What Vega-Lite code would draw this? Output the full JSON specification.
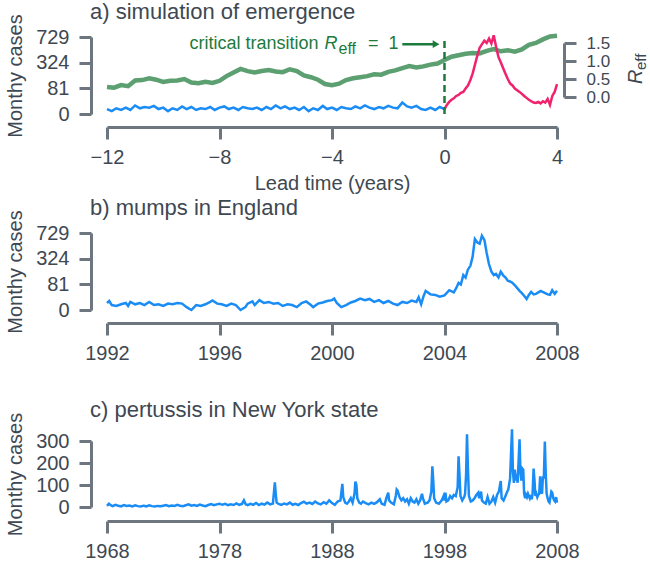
{
  "$schema": "https://vega.github.io/schema/vega-lite/v6.json",
  "background": "white",
  "padding": {"left": 5, "top": 0, "right": 2, "bottom": 0},
  "datasets": {
    "reff": [
      {"t": -12.0, "r": 0.28}, {"t": -11.75, "r": 0.26}, {"t": -11.5, "r": 0.33}, {"t": -11.25, "r": 0.30},
      {"t": -11.0, "r": 0.46}, {"t": -10.75, "r": 0.47}, {"t": -10.5, "r": 0.52}, {"t": -10.25, "r": 0.48},
      {"t": -10.0, "r": 0.42}, {"t": -9.75, "r": 0.45}, {"t": -9.5, "r": 0.46}, {"t": -9.25, "r": 0.50},
      {"t": -9.0, "r": 0.40}, {"t": -8.75, "r": 0.38}, {"t": -8.5, "r": 0.42}, {"t": -8.25, "r": 0.39},
      {"t": -8.0, "r": 0.45}, {"t": -7.75, "r": 0.58}, {"t": -7.5, "r": 0.68}, {"t": -7.25, "r": 0.78},
      {"t": -7.0, "r": 0.72}, {"t": -6.75, "r": 0.68}, {"t": -6.5, "r": 0.72}, {"t": -6.25, "r": 0.75},
      {"t": -6.0, "r": 0.71}, {"t": -5.75, "r": 0.69}, {"t": -5.5, "r": 0.77}, {"t": -5.25, "r": 0.72},
      {"t": -5.0, "r": 0.60}, {"t": -4.75, "r": 0.55}, {"t": -4.5, "r": 0.48}, {"t": -4.25, "r": 0.36},
      {"t": -4.0, "r": 0.33}, {"t": -3.75, "r": 0.37}, {"t": -3.5, "r": 0.47}, {"t": -3.25, "r": 0.52},
      {"t": -3.0, "r": 0.55}, {"t": -2.75, "r": 0.58}, {"t": -2.5, "r": 0.63}, {"t": -2.25, "r": 0.62},
      {"t": -2.0, "r": 0.70}, {"t": -1.75, "r": 0.74}, {"t": -1.5, "r": 0.80}, {"t": -1.25, "r": 0.86},
      {"t": -1.0, "r": 0.82}, {"t": -0.75, "r": 0.85}, {"t": -0.5, "r": 0.90}, {"t": -0.25, "r": 0.93},
      {"t": 0.0, "r": 1.03}, {"t": 0.25, "r": 1.12}, {"t": 0.5, "r": 1.16}, {"t": 0.75, "r": 1.20},
      {"t": 1.0, "r": 1.22}, {"t": 1.25, "r": 1.21}, {"t": 1.5, "r": 1.28}, {"t": 1.75, "r": 1.33},
      {"t": 2.0, "r": 1.27}, {"t": 2.25, "r": 1.30}, {"t": 2.5, "r": 1.26}, {"t": 2.75, "r": 1.32},
      {"t": 3.0, "r": 1.45}, {"t": 3.25, "r": 1.50}, {"t": 3.5, "r": 1.60}, {"t": 3.75, "r": 1.68},
      {"t": 4.0, "r": 1.70}
    ],
    "sim": [
      {"t": -12.0, "c": 3, "p": "before"}, {"t": -11.83, "c": 1, "p": "before"}, {"t": -11.67, "c": 4, "p": "before"},
      {"t": -11.5, "c": 2, "p": "before"}, {"t": -11.33, "c": 5, "p": "before"}, {"t": -11.17, "c": 2, "p": "before"},
      {"t": -11.0, "c": 9, "p": "before"}, {"t": -10.83, "c": 4, "p": "before"}, {"t": -10.67, "c": 6, "p": "before"},
      {"t": -10.5, "c": 5, "p": "before"}, {"t": -10.33, "c": 8, "p": "before"}, {"t": -10.17, "c": 3, "p": "before"},
      {"t": -10.0, "c": 5, "p": "before"}, {"t": -9.83, "c": 1, "p": "before"}, {"t": -9.67, "c": 4, "p": "before"},
      {"t": -9.5, "c": 2, "p": "before"}, {"t": -9.33, "c": 7, "p": "before"}, {"t": -9.17, "c": 3, "p": "before"},
      {"t": -9.0, "c": 6, "p": "before"}, {"t": -8.83, "c": 2, "p": "before"}, {"t": -8.67, "c": 4, "p": "before"},
      {"t": -8.5, "c": 3, "p": "before"}, {"t": -8.33, "c": 6, "p": "before"}, {"t": -8.17, "c": 2, "p": "before"},
      {"t": -8.0, "c": 5, "p": "before"}, {"t": -7.83, "c": 7, "p": "before"}, {"t": -7.67, "c": 3, "p": "before"},
      {"t": -7.5, "c": 5, "p": "before"}, {"t": -7.33, "c": 2, "p": "before"}, {"t": -7.17, "c": 6, "p": "before"},
      {"t": -7.0, "c": 4, "p": "before"}, {"t": -6.83, "c": 3, "p": "before"}, {"t": -6.67, "c": 5, "p": "before"},
      {"t": -6.5, "c": 2, "p": "before"}, {"t": -6.33, "c": 6, "p": "before"}, {"t": -6.17, "c": 3, "p": "before"},
      {"t": -6.0, "c": 9, "p": "before"}, {"t": -5.83, "c": 4, "p": "before"}, {"t": -5.67, "c": 7, "p": "before"},
      {"t": -5.5, "c": 3, "p": "before"}, {"t": -5.33, "c": 5, "p": "before"}, {"t": -5.17, "c": 2, "p": "before"},
      {"t": -5.0, "c": 6, "p": "before"}, {"t": -4.83, "c": 1, "p": "before"}, {"t": -4.67, "c": 4, "p": "before"},
      {"t": -4.5, "c": 2, "p": "before"}, {"t": -4.33, "c": 8, "p": "before"}, {"t": -4.17, "c": 3, "p": "before"},
      {"t": -4.0, "c": 5, "p": "before"}, {"t": -3.83, "c": 2, "p": "before"}, {"t": -3.67, "c": 6, "p": "before"},
      {"t": -3.5, "c": 4, "p": "before"}, {"t": -3.33, "c": 3, "p": "before"}, {"t": -3.17, "c": 7, "p": "before"},
      {"t": -3.0, "c": 4, "p": "before"}, {"t": -2.83, "c": 9, "p": "before"}, {"t": -2.67, "c": 5, "p": "before"},
      {"t": -2.5, "c": 3, "p": "before"}, {"t": -2.33, "c": 6, "p": "before"}, {"t": -2.17, "c": 4, "p": "before"},
      {"t": -2.0, "c": 8, "p": "before"}, {"t": -1.83, "c": 5, "p": "before"}, {"t": -1.67, "c": 4, "p": "before"},
      {"t": -1.5, "c": 16, "p": "before"}, {"t": -1.33, "c": 7, "p": "before"}, {"t": -1.17, "c": 5, "p": "before"},
      {"t": -1.0, "c": 8, "p": "before"}, {"t": -0.83, "c": 3, "p": "before"}, {"t": -0.67, "c": 2, "p": "before"},
      {"t": -0.5, "c": 5, "p": "before"}, {"t": -0.33, "c": 2, "p": "before"}, {"t": -0.17, "c": 6, "p": "before"},
      {"t": 0.0, "c": 3, "p": "before"},
      {"t": 0.0, "c": 3, "p": "after"}, {"t": 0.083, "c": 10, "p": "after"}, {"t": 0.167, "c": 18, "p": "after"},
      {"t": 0.25, "c": 25, "p": "after"}, {"t": 0.333, "c": 30, "p": "after"}, {"t": 0.417, "c": 40, "p": "after"},
      {"t": 0.5, "c": 45, "p": "after"}, {"t": 0.583, "c": 55, "p": "after"}, {"t": 0.667, "c": 60, "p": "after"},
      {"t": 0.75, "c": 80, "p": "after"}, {"t": 0.833, "c": 100, "p": "after"}, {"t": 0.917, "c": 140, "p": "after"},
      {"t": 1.0, "c": 200, "p": "after"}, {"t": 1.083, "c": 300, "p": "after"}, {"t": 1.167, "c": 420, "p": "after"},
      {"t": 1.25, "c": 540, "p": "after"}, {"t": 1.333, "c": 600, "p": "after"}, {"t": 1.417, "c": 660, "p": "after"},
      {"t": 1.5, "c": 620, "p": "after"}, {"t": 1.583, "c": 700, "p": "after"}, {"t": 1.667, "c": 610, "p": "after"},
      {"t": 1.75, "c": 760, "p": "after"}, {"t": 1.833, "c": 560, "p": "after"}, {"t": 1.917, "c": 400, "p": "after"},
      {"t": 2.0, "c": 330, "p": "after"}, {"t": 2.083, "c": 260, "p": "after"}, {"t": 2.167, "c": 200, "p": "after"},
      {"t": 2.25, "c": 150, "p": "after"}, {"t": 2.333, "c": 115, "p": "after"}, {"t": 2.417, "c": 100, "p": "after"},
      {"t": 2.5, "c": 80, "p": "after"}, {"t": 2.583, "c": 70, "p": "after"}, {"t": 2.667, "c": 60, "p": "after"},
      {"t": 2.75, "c": 50, "p": "after"}, {"t": 2.833, "c": 40, "p": "after"}, {"t": 2.917, "c": 32, "p": "after"},
      {"t": 3.0, "c": 25, "p": "after"}, {"t": 3.083, "c": 20, "p": "after"}, {"t": 3.167, "c": 16, "p": "after"},
      {"t": 3.25, "c": 15, "p": "after"}, {"t": 3.333, "c": 18, "p": "after"}, {"t": 3.417, "c": 14, "p": "after"},
      {"t": 3.5, "c": 20, "p": "after"}, {"t": 3.583, "c": 16, "p": "after"}, {"t": 3.667, "c": 28, "p": "after"},
      {"t": 3.75, "c": 10, "p": "after"}, {"t": 3.833, "c": 40, "p": "after"}, {"t": 3.917, "c": 60, "p": "after"},
      {"t": 4.0, "c": 110, "p": "after"}
    ],
    "mumps": [
      {"yr": 1992.0, "c": 6}, {"yr": 1992.08, "c": 10}, {"yr": 1992.17, "c": 3}, {"yr": 1992.33, "c": 2}, {"yr": 1992.5, "c": 4},
      {"yr": 1992.67, "c": 6}, {"yr": 1992.75, "c": 2}, {"yr": 1992.83, "c": 8}, {"yr": 1993.0, "c": 4}, {"yr": 1993.17, "c": 6},
      {"yr": 1993.33, "c": 3}, {"yr": 1993.5, "c": 8}, {"yr": 1993.67, "c": 3}, {"yr": 1993.83, "c": 4}, {"yr": 1994.0, "c": 2},
      {"yr": 1994.17, "c": 5}, {"yr": 1994.33, "c": 4}, {"yr": 1994.5, "c": 6}, {"yr": 1994.67, "c": 5}, {"yr": 1994.83, "c": 1},
      {"yr": 1995.0, "c": 0}, {"yr": 1995.17, "c": 3}, {"yr": 1995.33, "c": 2}, {"yr": 1995.5, "c": 4}, {"yr": 1995.67, "c": 8},
      {"yr": 1995.75, "c": 11}, {"yr": 1995.92, "c": 5}, {"yr": 1996.08, "c": 4}, {"yr": 1996.25, "c": 2}, {"yr": 1996.42, "c": 5},
      {"yr": 1996.58, "c": 3}, {"yr": 1996.75, "c": 0}, {"yr": 1996.92, "c": 1}, {"yr": 1997.0, "c": 5}, {"yr": 1997.17, "c": 9},
      {"yr": 1997.25, "c": 3}, {"yr": 1997.42, "c": 12}, {"yr": 1997.58, "c": 6}, {"yr": 1997.75, "c": 8}, {"yr": 1997.92, "c": 5},
      {"yr": 1998.08, "c": 6}, {"yr": 1998.25, "c": 2}, {"yr": 1998.42, "c": 4}, {"yr": 1998.58, "c": 3}, {"yr": 1998.75, "c": 1},
      {"yr": 1998.92, "c": 6}, {"yr": 1999.08, "c": 9}, {"yr": 1999.25, "c": 3}, {"yr": 1999.33, "c": 1}, {"yr": 1999.5, "c": 5},
      {"yr": 1999.67, "c": 7}, {"yr": 1999.83, "c": 10}, {"yr": 2000.0, "c": 12}, {"yr": 2000.08, "c": 16}, {"yr": 2000.17, "c": 6},
      {"yr": 2000.33, "c": 1}, {"yr": 2000.5, "c": 3}, {"yr": 2000.67, "c": 7}, {"yr": 2000.83, "c": 10}, {"yr": 2001.0, "c": 16},
      {"yr": 2001.17, "c": 12}, {"yr": 2001.33, "c": 15}, {"yr": 2001.5, "c": 8}, {"yr": 2001.67, "c": 12}, {"yr": 2001.83, "c": 6},
      {"yr": 2002.0, "c": 10}, {"yr": 2002.17, "c": 5}, {"yr": 2002.33, "c": 3}, {"yr": 2002.5, "c": 8}, {"yr": 2002.67, "c": 6},
      {"yr": 2002.83, "c": 11}, {"yr": 2003.0, "c": 8}, {"yr": 2003.08, "c": 20}, {"yr": 2003.17, "c": 4}, {"yr": 2003.25, "c": 22},
      {"yr": 2003.33, "c": 45}, {"yr": 2003.5, "c": 30}, {"yr": 2003.67, "c": 28}, {"yr": 2003.83, "c": 22}, {"yr": 2004.0, "c": 26},
      {"yr": 2004.17, "c": 48}, {"yr": 2004.33, "c": 38}, {"yr": 2004.42, "c": 60}, {"yr": 2004.5, "c": 90}, {"yr": 2004.58, "c": 80},
      {"yr": 2004.67, "c": 150}, {"yr": 2004.75, "c": 130}, {"yr": 2004.83, "c": 200}, {"yr": 2004.92, "c": 240}, {"yr": 2005.0, "c": 350},
      {"yr": 2005.08, "c": 620}, {"yr": 2005.17, "c": 560}, {"yr": 2005.25, "c": 540}, {"yr": 2005.33, "c": 680}, {"yr": 2005.42, "c": 600},
      {"yr": 2005.5, "c": 400}, {"yr": 2005.58, "c": 260}, {"yr": 2005.67, "c": 180}, {"yr": 2005.75, "c": 150}, {"yr": 2005.83, "c": 160},
      {"yr": 2005.92, "c": 130}, {"yr": 2006.0, "c": 180}, {"yr": 2006.08, "c": 150}, {"yr": 2006.17, "c": 130}, {"yr": 2006.25, "c": 105},
      {"yr": 2006.33, "c": 100}, {"yr": 2006.42, "c": 90}, {"yr": 2006.5, "c": 75}, {"yr": 2006.58, "c": 60}, {"yr": 2006.67, "c": 45},
      {"yr": 2006.75, "c": 35}, {"yr": 2006.83, "c": 25}, {"yr": 2006.92, "c": 15}, {"yr": 2007.0, "c": 28}, {"yr": 2007.08, "c": 40},
      {"yr": 2007.17, "c": 30}, {"yr": 2007.25, "c": 32}, {"yr": 2007.42, "c": 45}, {"yr": 2007.58, "c": 35}, {"yr": 2007.67, "c": 30},
      {"yr": 2007.75, "c": 28}, {"yr": 2007.83, "c": 48}, {"yr": 2007.92, "c": 32}, {"yr": 2008.0, "c": 45}
    ],
    "pertussis": [
      {"yr": 1968.0, "c": 5}, {"yr": 1968.17, "c": 15}, {"yr": 1968.33, "c": 8}, {"yr": 1968.5, "c": 4}, {"yr": 1968.75, "c": 10},
      {"yr": 1969.0, "c": 6}, {"yr": 1969.25, "c": 3}, {"yr": 1969.5, "c": 9}, {"yr": 1969.75, "c": 5}, {"yr": 1970.0, "c": 7},
      {"yr": 1970.25, "c": 3}, {"yr": 1970.5, "c": 8}, {"yr": 1970.75, "c": 4}, {"yr": 1971.0, "c": 2}, {"yr": 1971.25, "c": 6},
      {"yr": 1971.5, "c": 3}, {"yr": 1971.75, "c": 8}, {"yr": 1972.0, "c": 4}, {"yr": 1972.25, "c": 2}, {"yr": 1972.5, "c": 5},
      {"yr": 1972.75, "c": 3}, {"yr": 1973.0, "c": 6}, {"yr": 1973.25, "c": 9}, {"yr": 1973.5, "c": 4}, {"yr": 1973.75, "c": 7},
      {"yr": 1974.0, "c": 5}, {"yr": 1974.25, "c": 10}, {"yr": 1974.5, "c": 6}, {"yr": 1974.75, "c": 4}, {"yr": 1975.0, "c": 8},
      {"yr": 1975.25, "c": 12}, {"yr": 1975.5, "c": 6}, {"yr": 1975.75, "c": 9}, {"yr": 1976.0, "c": 5}, {"yr": 1976.25, "c": 11},
      {"yr": 1976.5, "c": 7}, {"yr": 1976.75, "c": 4}, {"yr": 1977.0, "c": 9}, {"yr": 1977.25, "c": 13}, {"yr": 1977.5, "c": 8},
      {"yr": 1977.75, "c": 12}, {"yr": 1978.0, "c": 15}, {"yr": 1978.25, "c": 10}, {"yr": 1978.5, "c": 14}, {"yr": 1978.75, "c": 8},
      {"yr": 1979.0, "c": 12}, {"yr": 1979.25, "c": 9}, {"yr": 1979.5, "c": 16}, {"yr": 1979.75, "c": 10}, {"yr": 1980.0, "c": 14},
      {"yr": 1980.17, "c": 30}, {"yr": 1980.33, "c": 12}, {"yr": 1980.5, "c": 8}, {"yr": 1980.75, "c": 14}, {"yr": 1981.0, "c": 10},
      {"yr": 1981.25, "c": 18}, {"yr": 1981.5, "c": 9}, {"yr": 1981.75, "c": 15}, {"yr": 1982.0, "c": 11}, {"yr": 1982.25, "c": 20},
      {"yr": 1982.5, "c": 12}, {"yr": 1982.75, "c": 16}, {"yr": 1982.92, "c": 112}, {"yr": 1983.0, "c": 60}, {"yr": 1983.08, "c": 20},
      {"yr": 1983.25, "c": 14}, {"yr": 1983.5, "c": 10}, {"yr": 1983.75, "c": 16}, {"yr": 1984.0, "c": 12}, {"yr": 1984.25, "c": 20},
      {"yr": 1984.5, "c": 10}, {"yr": 1984.75, "c": 14}, {"yr": 1985.0, "c": 9}, {"yr": 1985.25, "c": 18}, {"yr": 1985.5, "c": 24},
      {"yr": 1985.75, "c": 15}, {"yr": 1986.0, "c": 20}, {"yr": 1986.25, "c": 14}, {"yr": 1986.5, "c": 25}, {"yr": 1986.75, "c": 16},
      {"yr": 1987.0, "c": 12}, {"yr": 1987.25, "c": 22}, {"yr": 1987.5, "c": 15}, {"yr": 1987.75, "c": 30}, {"yr": 1988.0, "c": 18},
      {"yr": 1988.25, "c": 10}, {"yr": 1988.5, "c": 25}, {"yr": 1988.75, "c": 30}, {"yr": 1988.92, "c": 105}, {"yr": 1989.0, "c": 45},
      {"yr": 1989.17, "c": 20}, {"yr": 1989.33, "c": 15}, {"yr": 1989.5, "c": 25}, {"yr": 1989.67, "c": 40}, {"yr": 1989.83, "c": 20},
      {"yr": 1990.0, "c": 60}, {"yr": 1990.08, "c": 115}, {"yr": 1990.17, "c": 100}, {"yr": 1990.25, "c": 40}, {"yr": 1990.42, "c": 20},
      {"yr": 1990.58, "c": 15}, {"yr": 1990.75, "c": 25}, {"yr": 1991.0, "c": 18}, {"yr": 1991.25, "c": 12}, {"yr": 1991.5, "c": 20},
      {"yr": 1991.75, "c": 14}, {"yr": 1992.0, "c": 22}, {"yr": 1992.25, "c": 35}, {"yr": 1992.42, "c": 15}, {"yr": 1992.67, "c": 10},
      {"yr": 1992.83, "c": 40}, {"yr": 1993.0, "c": 65}, {"yr": 1993.08, "c": 30}, {"yr": 1993.25, "c": 20}, {"yr": 1993.5, "c": 12},
      {"yr": 1993.67, "c": 50}, {"yr": 1993.75, "c": 80}, {"yr": 1993.83, "c": 75}, {"yr": 1994.0, "c": 45}, {"yr": 1994.17, "c": 30},
      {"yr": 1994.33, "c": 40}, {"yr": 1994.5, "c": 25}, {"yr": 1994.67, "c": 35}, {"yr": 1994.83, "c": 15}, {"yr": 1995.0, "c": 40},
      {"yr": 1995.17, "c": 25}, {"yr": 1995.33, "c": 20}, {"yr": 1995.5, "c": 35}, {"yr": 1995.67, "c": 15}, {"yr": 1995.83, "c": 30},
      {"yr": 1996.0, "c": 60}, {"yr": 1996.08, "c": 40}, {"yr": 1996.25, "c": 15}, {"yr": 1996.5, "c": 20}, {"yr": 1996.67, "c": 30},
      {"yr": 1996.83, "c": 70}, {"yr": 1996.92, "c": 185}, {"yr": 1997.0, "c": 120}, {"yr": 1997.08, "c": 40}, {"yr": 1997.25, "c": 20},
      {"yr": 1997.5, "c": 15}, {"yr": 1997.75, "c": 30}, {"yr": 1997.92, "c": 50}, {"yr": 1998.0, "c": 30}, {"yr": 1998.08, "c": 65},
      {"yr": 1998.17, "c": 25}, {"yr": 1998.33, "c": 30}, {"yr": 1998.5, "c": 50}, {"yr": 1998.67, "c": 40}, {"yr": 1998.83, "c": 55},
      {"yr": 1999.0, "c": 50}, {"yr": 1999.17, "c": 90}, {"yr": 1999.25, "c": 230}, {"yr": 1999.33, "c": 150}, {"yr": 1999.42, "c": 50},
      {"yr": 1999.58, "c": 30}, {"yr": 1999.75, "c": 45}, {"yr": 1999.83, "c": 60}, {"yr": 1999.92, "c": 150}, {"yr": 2000.0, "c": 330},
      {"yr": 2000.08, "c": 180}, {"yr": 2000.17, "c": 50}, {"yr": 2000.33, "c": 25}, {"yr": 2000.5, "c": 30}, {"yr": 2000.67, "c": 40},
      {"yr": 2000.83, "c": 55}, {"yr": 2001.0, "c": 65}, {"yr": 2001.08, "c": 40}, {"yr": 2001.25, "c": 70}, {"yr": 2001.33, "c": 30},
      {"yr": 2001.5, "c": 20}, {"yr": 2001.67, "c": 15}, {"yr": 2001.83, "c": 45}, {"yr": 2001.92, "c": 30}, {"yr": 2002.0, "c": 15},
      {"yr": 2002.17, "c": 25}, {"yr": 2002.33, "c": 45}, {"yr": 2002.5, "c": 20}, {"yr": 2002.67, "c": 55}, {"yr": 2002.83, "c": 70},
      {"yr": 2003.0, "c": 118}, {"yr": 2003.08, "c": 40}, {"yr": 2003.25, "c": 30}, {"yr": 2003.42, "c": 50}, {"yr": 2003.58, "c": 70},
      {"yr": 2003.67, "c": 80}, {"yr": 2003.83, "c": 130}, {"yr": 2003.92, "c": 250}, {"yr": 2004.0, "c": 353}, {"yr": 2004.08, "c": 160},
      {"yr": 2004.17, "c": 110}, {"yr": 2004.25, "c": 170}, {"yr": 2004.33, "c": 120}, {"yr": 2004.42, "c": 150}, {"yr": 2004.5, "c": 110},
      {"yr": 2004.58, "c": 200}, {"yr": 2004.67, "c": 308}, {"yr": 2004.75, "c": 160}, {"yr": 2004.83, "c": 120}, {"yr": 2004.92, "c": 175},
      {"yr": 2005.0, "c": 170}, {"yr": 2005.08, "c": 60}, {"yr": 2005.17, "c": 40}, {"yr": 2005.25, "c": 55}, {"yr": 2005.33, "c": 45},
      {"yr": 2005.42, "c": 60}, {"yr": 2005.5, "c": 50}, {"yr": 2005.58, "c": 40}, {"yr": 2005.67, "c": 55}, {"yr": 2005.75, "c": 35},
      {"yr": 2005.83, "c": 60}, {"yr": 2005.92, "c": 175}, {"yr": 2006.0, "c": 120}, {"yr": 2006.08, "c": 50}, {"yr": 2006.17, "c": 60},
      {"yr": 2006.25, "c": 45}, {"yr": 2006.33, "c": 55}, {"yr": 2006.42, "c": 60}, {"yr": 2006.5, "c": 140}, {"yr": 2006.58, "c": 70},
      {"yr": 2006.67, "c": 60}, {"yr": 2006.75, "c": 140}, {"yr": 2006.83, "c": 130}, {"yr": 2006.92, "c": 298}, {"yr": 2007.0, "c": 150},
      {"yr": 2007.08, "c": 60}, {"yr": 2007.17, "c": 40}, {"yr": 2007.25, "c": 25}, {"yr": 2007.33, "c": 20}, {"yr": 2007.42, "c": 45},
      {"yr": 2007.5, "c": 70}, {"yr": 2007.58, "c": 65}, {"yr": 2007.67, "c": 40}, {"yr": 2007.75, "c": 30}, {"yr": 2007.83, "c": 25},
      {"yr": 2007.92, "c": 45}, {"yr": 2008.0, "c": 20}
    ],
    "one": [{"k": 1}]
  },
  "spacing": 119,
  "bounds": "flush",
  "vconcat": [
    {
      "width": 450,
      "height": 77,
      "title": {"text": "a) simulation of emergence"},
      "layer": [
        {
          "layer": [
            {
              "data": {"name": "reff"},
              "mark": {"type": "line", "color": "#5c9f70", "strokeWidth": 4.5},
              "encoding": {
                "x": {"field": "t", "type": "quantitative", "scale": {"domain": [-12, 4], "nice": false, "zero": false},
                      "axis": {"values": [-12, -8, -4, 0, 4], "title": "Lead time (years)", "offset": 13}},
                "y": {"field": "r", "type": "quantitative",
                      "scale": {"domain": [0, 1.5], "range": [60, 6], "nice": false, "zero": false},
                      "axis": {"orient": "right", "values": [0, 0.5, 1, 1.5], "format": ".1f", "title": null, "offset": 7, "labelPadding": 10, "labelFontSize": 17}}
              }
            },
            {
              "data": {"name": "one"},
              "mark": {"type": "text", "text": "R", "fontStyle": "italic", "fontSize": 20, "angle": 270, "align": "left", "baseline": "middle", "color": "#3e4852"},
              "encoding": {
                "x": {"datum": 6.82, "type": "quantitative"},
                "y": {"datum": 0.36, "type": "quantitative",
                      "scale": {"domain": [0, 1.5], "range": [60, 6], "nice": false, "zero": false},
                      "axis": {"orient": "right", "values": [0, 0.5, 1, 1.5], "format": ".1f", "title": null, "offset": 7, "labelPadding": 10, "labelFontSize": 17}}
              }
            },
            {
              "data": {"name": "one"},
              "mark": {"type": "text", "text": "eff", "fontSize": 15, "angle": 270, "align": "left", "baseline": "middle", "color": "#3e4852"},
              "encoding": {
                "x": {"datum": 6.98, "type": "quantitative"},
                "y": {"datum": 0.75, "type": "quantitative",
                      "scale": {"domain": [0, 1.5], "range": [60, 6], "nice": false, "zero": false},
                      "axis": {"orient": "right", "values": [0, 0.5, 1, 1.5], "format": ".1f", "title": null, "offset": 7, "labelPadding": 10, "labelFontSize": 17}}
              }
            }
          ]
        },
        {
          "layer": [
            {
              "data": {"name": "sim"},
              "mark": {"type": "line", "strokeWidth": 2.5},
              "encoding": {
                "x": {"field": "t", "type": "quantitative"},
                "y": {"field": "c", "type": "quantitative",
                      "scale": {"type": "sqrt", "domain": [0, 729], "nice": false, "zero": false},
                      "axis": {"values": [0, 81, 324, 729], "title": "Monthy cases", "offset": 16}},
                "color": {"field": "p", "type": "nominal", "scale": {"domain": ["before", "after"], "range": ["#1a8cf5", "#f0226e"]}, "legend": null}
              }
            },
            {
              "data": {"name": "one"},
              "mark": {"type": "rule", "color": "#1c7a3c", "strokeWidth": 2.5, "strokeDash": [7, 4]},
              "encoding": {
                "x": {"datum": 0, "type": "quantitative"},
                "y": {"datum": 0, "type": "quantitative", "scale": {"type": "sqrt", "domain": [0, 729], "nice": false, "zero": false},
                      "axis": {"values": [0, 81, 324, 729], "title": "Monthy cases", "offset": 16}},
                "y2": {"datum": 729}
              }
            },
            {
              "data": {"name": "one"},
              "mark": {"type": "rule", "color": "#1c7a3c", "strokeWidth": 2.5},
              "encoding": {
                "x": {"datum": -1.5, "type": "quantitative"},
                "x2": {"datum": -0.35},
                "y": {"datum": 600, "type": "quantitative", "scale": {"type": "sqrt", "domain": [0, 729], "nice": false, "zero": false},
                      "axis": {"values": [0, 81, 324, 729], "title": "Monthy cases", "offset": 16}}
              }
            },
            {
              "data": {"name": "one"},
              "mark": {"type": "point", "shape": "triangle-right", "filled": true, "opacity": 1, "size": 60, "color": "#1c7a3c"},
              "encoding": {
                "x": {"datum": -0.3, "type": "quantitative"},
                "y": {"datum": 600, "type": "quantitative", "scale": {"type": "sqrt", "domain": [0, 729], "nice": false, "zero": false},
                      "axis": {"values": [0, 81, 324, 729], "title": "Monthy cases", "offset": 16}}
              }
            },
            {
              "data": {"name": "one"},
              "mark": {"type": "text", "text": "critical transition", "fontSize": 18, "align": "right", "baseline": "middle", "dx": -126, "color": "#1c7a3c"},
              "encoding": {
                "x": {"datum": 0, "type": "quantitative"},
                "y": {"datum": 600, "type": "quantitative", "scale": {"type": "sqrt", "domain": [0, 729], "nice": false, "zero": false},
                      "axis": {"values": [0, 81, 324, 729], "title": "Monthy cases", "offset": 16}}
              }
            },
            {
              "data": {"name": "one"},
              "mark": {"type": "text", "text": "R", "fontSize": 18, "fontStyle": "italic", "align": "right", "baseline": "middle", "dx": -107, "color": "#1c7a3c"},
              "encoding": {
                "x": {"datum": 0, "type": "quantitative"},
                "y": {"datum": 600, "type": "quantitative", "scale": {"type": "sqrt", "domain": [0, 729], "nice": false, "zero": false},
                      "axis": {"values": [0, 81, 324, 729], "title": "Monthy cases", "offset": 16}}
              }
            },
            {
              "data": {"name": "one"},
              "mark": {"type": "text", "text": "eff", "fontSize": 16, "align": "left", "baseline": "middle", "dx": -106, "dy": 5, "color": "#1c7a3c"},
              "encoding": {
                "x": {"datum": 0, "type": "quantitative"},
                "y": {"datum": 600, "type": "quantitative", "scale": {"type": "sqrt", "domain": [0, 729], "nice": false, "zero": false},
                      "axis": {"values": [0, 81, 324, 729], "title": "Monthy cases", "offset": 16}}
              }
            },
            {
              "data": {"name": "one"},
              "mark": {"type": "text", "text": "= \u00a01", "fontSize": 18, "align": "right", "baseline": "middle", "dx": -46, "color": "#1c7a3c"},
              "encoding": {
                "x": {"datum": 0, "type": "quantitative"},
                "y": {"datum": 600, "type": "quantitative", "scale": {"type": "sqrt", "domain": [0, 729], "nice": false, "zero": false},
                      "axis": {"values": [0, 81, 324, 729], "title": "Monthy cases", "offset": 16}}
              }
            }
          ]
        }
      ],
      "resolve": {"scale": {"y": "independent"}}
    },
    {
      "width": 450,
      "height": 77,
      "title": {"text": "b) mumps in England"},
      "data": {"name": "mumps"},
      "mark": {"type": "line", "color": "#1a8cf5", "strokeWidth": 2.5},
      "encoding": {
        "x": {"field": "yr", "type": "quantitative", "scale": {"domain": [1992, 2008], "nice": false, "zero": false},
              "axis": {"values": [1992, 1996, 2000, 2004, 2008], "format": "d", "title": null, "offset": 13}},
        "y": {"field": "c", "type": "quantitative", "scale": {"type": "sqrt", "domain": [0, 729], "nice": false, "zero": false},
              "axis": {"values": [0, 81, 324, 729], "title": "Monthy cases", "offset": 16}}
      }
    },
    {
      "width": 450,
      "height": 78,
      "title": {"text": "c) pertussis in New York state"},
      "data": {"name": "pertussis"},
      "mark": {"type": "line", "color": "#1a8cf5", "strokeWidth": 2.5},
      "encoding": {
        "x": {"field": "yr", "type": "quantitative", "scale": {"domain": [1968, 2008], "nice": false, "zero": false},
              "axis": {"values": [1968, 1978, 1988, 1998, 2008], "format": "d", "title": null, "offset": 14}},
        "y": {"field": "c", "type": "quantitative", "scale": {"domain": [0, 300], "range": [78, 12], "nice": false, "zero": false},
              "axis": {"values": [0, 100, 200, 300], "title": "Monthy cases", "offset": 16}}
      }
    }
  ],
  "config": {
    "view": {"stroke": null},
    "font": "Liberation Sans",
    "axis": {
      "grid": false,
      "domainColor": "#6d767e",
      "domainWidth": 3,
      "tickColor": "#6d767e",
      "tickWidth": 3,
      "tickSize": 12,
      "labelFont": "Liberation Sans",
      "labelFontSize": 20,
      "labelColor": "#3e4852",
      "labelPadding": 8,
      "labelOverlap": false,
      "labelFlush": false,
      "titleFont": "Liberation Sans",
      "titleFontSize": 20,
      "titleFontWeight": "normal",
      "titleColor": "#3e4852",
      "titlePadding": 10
    },
    "axisX": {"titlePadding": 6},
    "axisY": {"labelPadding": 10},
    "title": {
      "font": "Liberation Sans",
      "fontSize": 22,
      "fontWeight": "normal",
      "color": "#3e4852",
      "anchor": "start",
      "frame": "group",
      "dx": -17,
      "offset": -10
    }
  }
}
